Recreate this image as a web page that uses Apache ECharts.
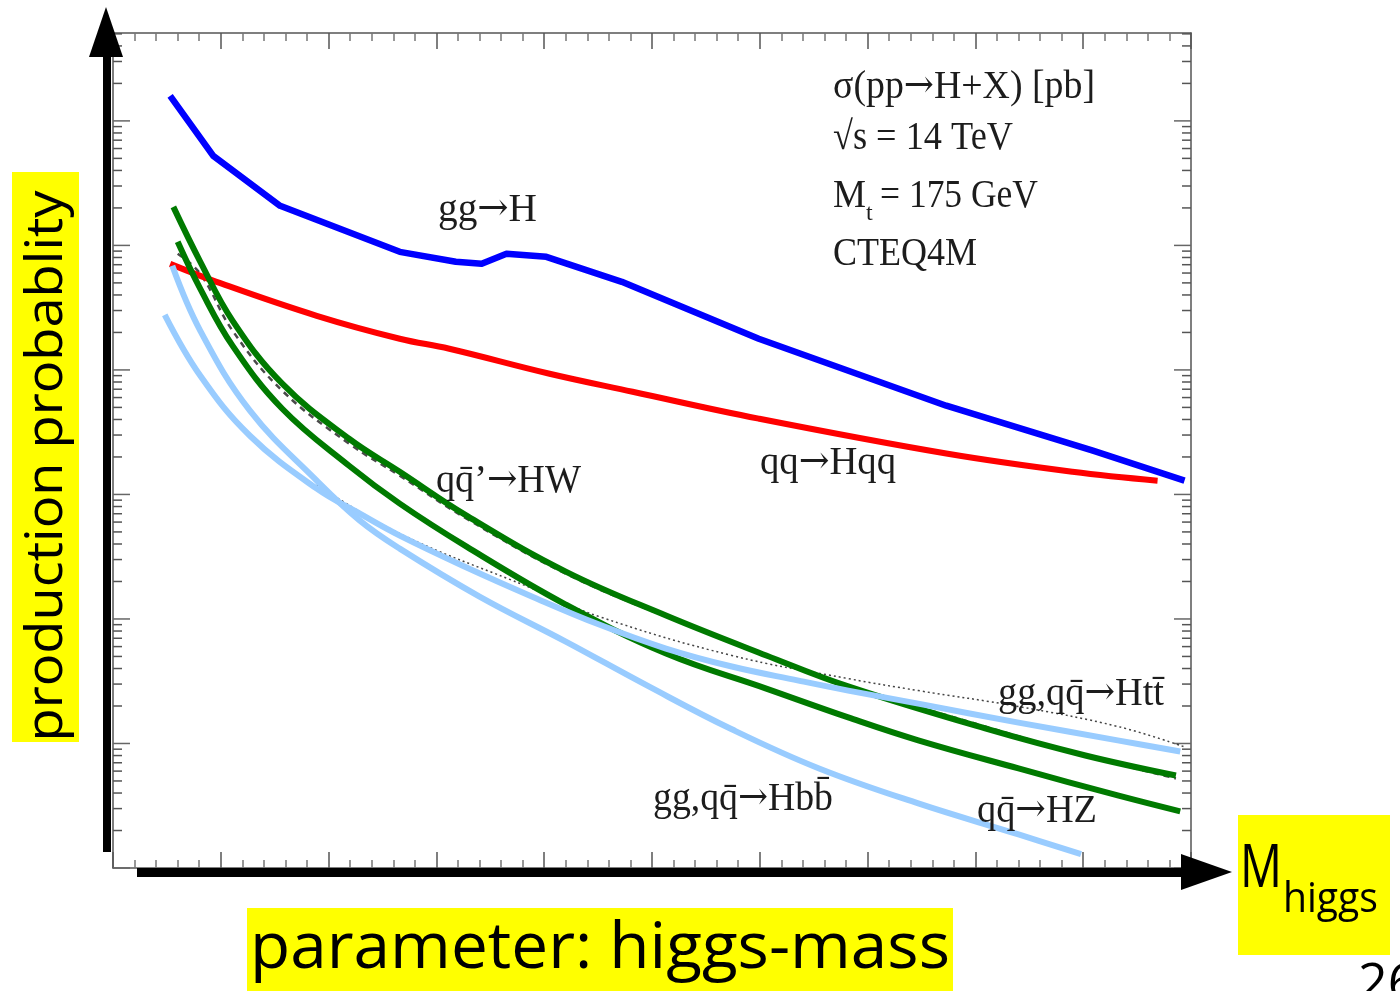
<!DOCTYPE html>
<html>
<head>
<meta charset="utf-8">
<script src="https://cdn.jsdelivr.net/npm/echarts@6/dist/echarts.min.js"></script>
<style>
html,body{margin:0;padding:0;background:#fff;}
#chart{width:1400px;height:991px;}
</style>
</head>
<body>
<div id="chart"></div>
<script>
// ---- Data (Higgs mass in GeV, cross section in pb) ----
const ggH_M      = [53, 93, 155, 266, 318, 342, 365, 402, 472, 599, 773, 909, 994];
const ggH_sigma  = [159, 52.4, 20.8, 8.88, 7.39, 7.11, 8.56, 8.10, 5.10, 1.78, 0.516, 0.225, 0.129];

const qqHqq_M     = [53, 96, 189, 266, 312, 405, 482, 599, 773, 890, 969];
const qqHqq_sigma = [7.11, 5.10, 2.72, 1.78, 1.48, 0.932, 0.668, 0.406, 0.213, 0.152, 0.129];

const HW_M     = [56, 81, 111, 157, 219, 266, 328, 420, 513, 606, 682, 809, 902, 986];
const HW_sigma = [20.4, 7.39, 2.48, 0.775, 0.280, 0.152, 0.0676, 0.0240, 0.01065, 0.00509, 0.00287, 0.00132, 0.000801, 0.000553];

const HZ_M     = [60, 81, 111, 157, 219, 266, 328, 420, 513, 606, 682, 747, 840, 932, 990];
const HZ_sigma = [10.7, 4.48, 1.56, 0.488, 0.170, 0.0844, 0.0381, 0.01305, 0.00528, 0.00276, 0.00162, 0.00106, 0.00063, 0.000383, 0.000285];

const Htt_M     = [48, 81, 127, 189, 229, 266, 328, 389, 451, 513, 574, 636, 682, 747, 840, 932, 990];
const Htt_sigma = [2.77, 0.898, 0.296, 0.1113, 0.0701, 0.0467, 0.0259, 0.0151, 0.00902, 0.00579, 0.00415, 0.00320, 0.00266, 0.00209, 0.00147, 0.00106, 0.000862];

const Hbb_M     = [55, 81, 127, 189, 229, 266, 340, 420, 497, 574, 655, 747, 840, 898];
const Hbb_sigma = [6.86, 2.06, 0.471, 0.1291, 0.0616, 0.0367, 0.01513, 0.00658, 0.00287, 0.00130, 0.00063, 0.00033, 0.000186, 0.000129];

// underlying original (grey) curves
const HWorig_M     = [60, 81, 111, 157, 219, 266, 328, 420, 513, 606, 682, 809, 902, 986];
const HWorig_sigma = [8.57, 5.92, 2.06, 0.681, 0.256, 0.1416, 0.0639, 0.0231, 0.01045, 0.00509, 0.00292, 0.00137, 0.000801, 0.000524];
const Httorig_M     = [189, 266, 389, 451, 574, 682, 747, 840, 932, 993];
const Httorig_sigma = [0.1199, 0.0485, 0.01754, 0.01045, 0.00509, 0.00332, 0.00266, 0.00198, 0.00137, 0.000946];

// axis ticks
const yMajorTicks = [1e-4, 1e-3, 1e-2, 1e-1, 1, 10, 100];
const yMinorMult = [2, 3, 4, 5, 6, 7, 8, 9];
const X_MIN = 0, X_MAX = 1000, Y_MIN = 1e-4, Y_MAX = 508;

const zip = (a, b) => a.map((v, i) => [v, b[i]]);

const yTickData = [];
yMajorTicks.forEach(d => {
  yTickData.push([X_MIN, d, 17]);
  yMinorMult.forEach(m => { const v = m * d; if (v <= Y_MAX) yTickData.push([X_MIN, v, 9]); });
});

// text fitting helpers
const mctx = document.createElement('canvas').getContext('2d');
function measure(text, font) { mctx.font = font; return mctx.measureText(text).width; }
function fit(text, font, width) { return width / measure(text, font); }

const SERIF_FONT = '40px "Liberation Serif"';
const ARROW_FONT = '38px "DejaVu Serif"';
const serifColor = '#1c1c1c';
function serifText(parts, x, y, width) {
  let total = 0, str = '';
  parts.forEach(p => {
    const isArrow = p === '→';
    total += measure(p, isArrow ? ARROW_FONT : SERIF_FONT);
    str += '{' + (isArrow ? 'r' : 'a') + '|' + p + '}';
  });
  return { type: 'text', x: x, y: y, scaleX: width / total, z: 100,
    style: { text: str, fill: serifColor, align: 'left', verticalAlign: 'middle',
      rich: { a: { font: SERIF_FONT, fill: serifColor }, r: { font: ARROW_FONT, fill: serifColor } } } };
}
const SANS = '"Open Sans"';

const chart = echarts.init(document.getElementById('chart'), null, { renderer: 'canvas' });

const axisLineStyle = { color: '#555', width: 1.5 };
function xAx(pos) {
  return { type: 'value', position: pos, min: X_MIN, max: X_MAX, interval: 100,
    axisLine: { show: true, onZero: false, lineStyle: axisLineStyle },
    axisTick: { show: true, inside: true, length: 16, lineStyle: { color: '#555', width: 1.5 } },
    minorTick: { show: true, splitNumber: 5, length: 8, lineStyle: { color: '#777', width: 1.5 } },
    axisLabel: { show: false }, splitLine: { show: false }, minorSplitLine: { show: false } };
}
function yAx(pos) {
  return { type: 'log', logBase: 10, position: pos, min: Y_MIN, max: Y_MAX,
    axisLine: { show: true, onZero: false, lineStyle: axisLineStyle },
    axisTick: { show: false }, minorTick: { show: false },
    axisLabel: { show: false }, splitLine: { show: false } };
}

function lineSeries(name, M, S, color, width, smooth, lineType) {
  return { name: name, type: 'line', data: zip(M, S), showSymbol: false, symbol: 'none',
    smooth: smooth, silent: true,
    lineStyle: { color: color, width: width, type: lineType || 'solid', cap: 'butt', join: 'round' } };
}

const option = {
  animation: false,
  backgroundColor: '#ffffff',
  grid: { left: 113, right: 209, top: 33, bottom: 123, containLabel: false },
  xAxis: [xAx('bottom'), xAx('top')],
  yAxis: [yAx('left'), yAx('right')],
  series: [
    { type: 'custom', xAxisIndex: 0, yAxisIndex: 0, silent: true, clip: false, data: yTickData,
      encode: { x: 0, y: 1 },
      renderItem: function (params, api) {
        const v = api.value(1), len = api.value(2);
        const pL = api.coord([X_MIN, v]), pR = api.coord([X_MAX, v]);
        const st = { stroke: len > 10 ? '#666' : '#555', lineWidth: 1.5 };
        return { type: 'group', children: [
          { type: 'line', shape: { x1: pL[0], y1: pL[1], x2: pL[0] + len, y2: pL[1] }, style: st },
          { type: 'line', shape: { x1: pR[0] - len, y1: pR[1], x2: pR[0], y2: pR[1] }, style: st }
        ] };
      } },
    lineSeries('HW orig', HWorig_M, HWorig_sigma, '#4a4a4a', 2.5, 0.4, [6, 5]),
    lineSeries('Htt orig', Httorig_M, Httorig_sigma, '#444', 1.5, 0.4, [2, 3]),
    lineSeries('qq→Hqq', qqHqq_M, qqHqq_sigma, '#ff0000', 6, 0.4),
    lineSeries('gg→H', ggH_M, ggH_sigma, '#0000ff', 6.5, false),
    lineSeries('HW', HW_M, HW_sigma, '#007a00', 6, 0.4),
    lineSeries('HZ', HZ_M, HZ_sigma, '#007a00', 6, 0.4),
    lineSeries('Htt', Htt_M, Htt_sigma, '#99ccff', 6, 0.4),
    lineSeries('Hbb', Hbb_M, Hbb_sigma, '#99ccff', 6, 0.4)
  ],
  graphic: [
    { type: 'rect', shape: { x: 103, y: 50, width: 8, height: 802 }, style: { fill: '#000' }, z: 90 },
    { type: 'polygon', shape: { points: [[89, 57], [123, 57], [106, 7]] }, style: { fill: '#000' }, z: 90 },
    { type: 'rect', shape: { x: 137, y: 868, width: 1050, height: 9 }, style: { fill: '#000' }, z: 90 },
    { type: 'polygon', shape: { points: [[1181, 854], [1181, 890], [1232, 872]] }, style: { fill: '#000' }, z: 90 },
    { type: 'rect', shape: { x: 12, y: 172, width: 67, height: 570 }, style: { fill: '#ffff00' }, z: 95 },
    { type: 'rect', shape: { x: 247, y: 908, width: 706, height: 90 }, style: { fill: '#ffff00' }, z: 95 },
    { type: 'rect', shape: { x: 1238, y: 815, width: 152, height: 140 }, style: { fill: '#ffff00' }, z: 95 },
    { type: 'text', x: 47, y: 466, rotation: Math.PI / 2, z: 100,
      scaleX: fit('production probablity', '52px ' + SANS, 551),
      style: { text: 'production probablity', font: '52px ' + SANS, fill: '#000', align: 'center', verticalAlign: 'middle' } },
    { type: 'text', x: 250, y: 950, z: 100, scaleX: fit('parameter: higgs-mass', '64px ' + SANS, 700),
      style: { text: 'parameter: higgs-mass', font: '64px ' + SANS, fill: '#000', align: 'left', verticalAlign: 'middle' } },
    { type: 'text', x: 1240, y: 870, z: 100, scaleX: fit('M', '60px ' + SANS, 42),
      style: { text: 'M', font: '60px ' + SANS, fill: '#000', align: 'left', verticalAlign: 'middle' } },
    { type: 'text', x: 1283, y: 900, z: 100, scaleX: fit('higgs', '42px ' + SANS, 95),
      style: { text: 'higgs', font: '42px ' + SANS, fill: '#000', align: 'left', verticalAlign: 'middle' } },
    { type: 'text', x: 1358, y: 985, z: 100,
      style: { text: '26', font: '52px ' + SANS, fill: '#000', align: 'left', verticalAlign: 'middle' } },
    serifText(['σ(pp', '→', 'H+X) [pb]'], 833, 87, 262),
    serifText(['√s = 14 TeV'], 833, 138, 180),
    serifText(['M'], 833, 196, 33),
    { type: 'text', x: 866, y: 214, z: 100, style: { text: 't', font: '24px "Liberation Serif"', fill: serifColor, align: 'left', verticalAlign: 'middle' } },
    serifText(['= 175 GeV'], 880, 196, 158),
    serifText(['CTEQ4M'], 833, 254, 144),
    serifText(['gg', '→', 'H'], 438, 210, 99),
    serifText(['qq', '→', 'Hqq'], 760, 463, 136),
    serifText(['qq\u0304\u2019', '→', 'HW'], 436, 481, 145),
    serifText(['gg,qq\u0304', '→', 'Htt\u0304'], 998, 694, 166),
    serifText(['gg,qq\u0304', '→', 'Hbb\u0304'], 653, 799, 180),
    serifText(['qq\u0304', '→', 'HZ'], 977, 811, 120)
  ]
};
chart.setOption(option);
</script>
</body>
</html>
